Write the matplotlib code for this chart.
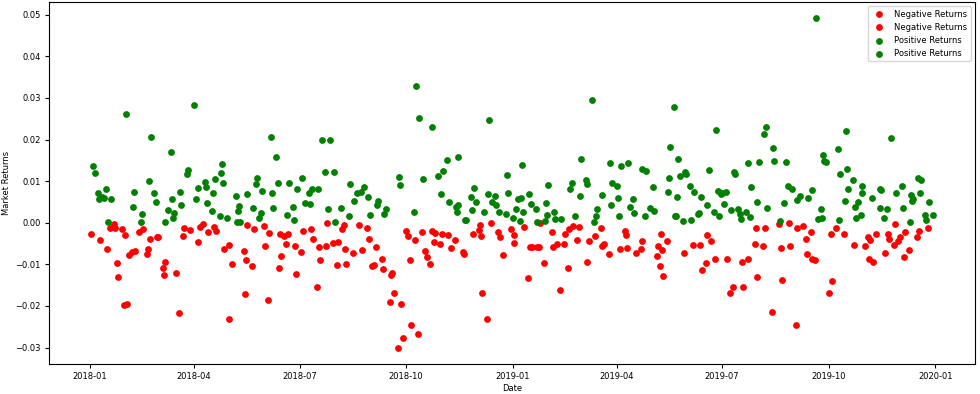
import numpy as np
import pandas as pd
import matplotlib
matplotlib.use('Agg')
import matplotlib.pyplot as plt
import matplotlib.dates as mdates

# daily market returns, days counted from 2018-01-01
start = pd.Timestamp('2018-01-01')

pos_days = [31, 90, 53, 70, 3, 4, 51, 114, 113, 115, 85, 84, 99, 100, 93, 108, 7, 14, 8, 10,
            12, 18, 38, 37, 55, 57, 71, 78, 79, 67, 73, 72, 65, 45, 44, 16, 92, 106, 101, 105, 112, 118,
            156, 161, 200, 207, 203, 211, 144, 143, 162, 172, 183, 179, 192, 197, 189, 225, 126, 136, 149, 157,
            129, 128, 141, 148, 146, 158, 170, 175, 176, 186, 190, 206, 217, 212, 224, 228, 231, 234, 237, 240,
            242, 127, 130,
            282, 284, 295, 345, 308, 318, 305, 301, 288, 267, 268, 303, 310, 316, 318, 317, 280, 249, 248, 256,
            254, 332, 329, 333, 344, 350, 347, 351, 360, 361, 370, 330, 340, 353, 359, 365, 368, 371, 324, 325,
            373, 434, 424, 449, 459, 465, 477, 480, 396, 416, 415, 428, 429, 451, 455, 486, 372, 379, 381, 385,
            394, 374, 442, 423, 456, 469, 466, 470, 450, 438, 437, 419, 401, 395, 402, 407, 393, 386, 435, 457,
            479, 484, 487,
            504, 541, 584, 582, 501, 590, 508, 591, 601, 568, 578, 535, 556, 557, 514, 515, 510, 500, 571, 603,
            606, 518, 522, 528, 499, 507, 542, 546, 549, 545, 533, 548, 576, 599, 611, 613, 620, 539, 543, 554,
            560, 561, 562, 567, 570, 585, 596, 505, 506, 512, 519, 525, 526,
            627, 653, 692, 646, 633, 634, 636, 648, 654, 659, 667, 667, 655, 624, 652, 663, 661, 675, 682, 683,
            696, 701, 715, 718, 709, 711, 710, 717, 725, 682, 688, 702, 631, 629, 632, 647, 662, 666, 686, 708,
            721, 722, 728]
pos_returns = [.0261, .0282, .0207, .0170, .0137, .0119, .0100, .0140, .0119, .0096, .0126, .0118, .0099, .0087, .0084, .0104, .0072, .0080, .0058, .0063,
               .0060, .0056, .0074, .0038, .0071, .0051, .0058, .0074, .0043, .0031, .0023, .0012, .0002, .0020, .0002, .0002, .0058, .0072, .0047, .0028, .0016, .0011,
               .0205, .0159, .0199, .0199, .0123, .0123, .0107, .0092, .0095, .0096, .0107, .0082, .0082, .0082, .0072, .0092, .0065, .0069, .0076, .0071,
               .0041, .0028, .0036, .0023, .0011, .0036, .0019, .0038, .0006, .0047, .0045, .0034, .0036, .0002, .0016, .0052, .0072, .0074, .0087, .0063,
               .0019, .0002, .0001,
               .0329, .0251, .0231, .0247, .0151, .0159, .0125, .0113, .0104, .0109, .0091, .0068, .0051, .0038, .0043, .0025, .0025, .0052, .0043, .0032,
               .0021, .0084, .0063, .0049, .0068, .0064, .0049, .0042, .0115, .0072, .0057, .0031, .0026, .0025, .0020, .0012, .0033, .0004, .0006, .0006,
               .0139, .0295, .0153, .0144, .0136, .0144, .0129, .0124, .0091, .0096, .0080, .0103, .0092, .0096, .0088, .0087, .0059, .0069, .0045, .0034,
               .0047, .0025, .0067, .0064, .0059, .0056, .0038, .0023, .0043, .0032, .0016, .0016, .0025, .0019, .0008, .0008, .0004, .0001, .0001, .0016,
               .0016, .0035, .0028,
               .0279, .0223, .0231, .0213, .0183, .0180, .0153, .0148, .0146, .0143, .0146, .0127, .0121, .0116, .0121, .0116, .0112, .0107, .0087, .0089,
               .0081, .0089, .0075, .0063, .0075, .0063, .0076, .0072, .0075, .0068, .0043, .0044, .0049, .0047, .0055, .0064, .0059, .0025, .0016, .0031,
               .0033, .0020, .0008, .0026, .0014, .0035, .0005, .0016, .0016, .0005, .0006, .0020, .0023,
               .0491, .0221, .0203, .0177, .0163, .0148, .0146, .0117, .0128, .0103, .0089, .0071, .0080, .0079, .0052, .0049, .0038, .0059, .0081, .0079,
               .0072, .0089, .0107, .0103, .0067, .0057, .0052, .0071, .0051, .0036, .0032, .0035, .0032, .0008, .0011, .0006, .0011, .0019, .0012, .0002,
               .0019, .0006, .0019]

neg_days = [1, 9, 15, 17, 21, 22, 28, 30, 23, 24, 29, 32, 34, 36, 39, 42, 46, 50, 49, 52,
            58, 59, 65, 63, 64, 74, 77, 81, 86, 80, 93, 95, 98, 102, 107, 109, 116, 120, 120,
            136, 142, 150, 155, 133, 135, 123, 140, 151, 134, 154, 164, 168, 171, 169, 165, 163, 177, 182, 178,
            184, 191, 193, 198, 199, 196, 204, 205, 210, 214, 213, 219, 218, 220, 221, 227, 232, 235, 239, 241, 244,
            247, 245, 252, 253, 260, 261, 263, 259, 269, 273, 275, 281, 276, 287, 295, 298, 304, 309, 297, 302,
            315, 312, 289, 291, 294, 322, 323, 277, 270, 266, 283, 331, 337, 336, 338, 346, 352, 354, 339, 343,
            357, 364, 366, 366,
            375, 389, 399, 392, 378, 380, 382, 386, 388, 400, 403, 409, 410, 414, 417, 422, 421, 413, 406, 431,
            436, 441, 429, 442, 444, 448, 458, 462, 463, 464, 472, 476, 477, 493, 491, 494, 490, 492, 495,
            498, 513, 521, 527, 533, 536, 532, 529, 540, 550, 553, 555, 564, 563, 568, 575, 583, 574, 581, 576,
            589, 595, 604, 597, 605, 598, 611, 616, 618, 619, 610,
            623, 624, 626, 640, 644, 651, 641, 638, 660, 669, 672, 674, 679, 673, 676, 689, 690, 695, 700, 698,
            694, 687, 704, 707, 703, 714, 716, 724]
neg_returns = [-.0026, -.0042, -.0064, -.0012, -.0003, -.0013, -.0016, -.0030, -.0096, -.0131, -.0198, -.0196, -.0078, -.0070, -.0067, -.0022, -.0014, -.0062, -.0075, -.0040,
               -.0035, -.0034, -.0094, -.0108, -.0126, -.0122, -.0218, -.0012, -.0018, -.0031, -.0046, -.0010, -.0004, -.0023, -.0010, -.0021, -.0064, -.0054, -.0232,
               -.0006, -.0016, -.0008, -.0024, -.0067, -.0090, -.0100, -.0103, -.0056, -.0172, -.0186, -.0028, -.0032, -.0028, -.0052, -.0080, -.0110, -.0056, -.0070, -.0124,
               -.0019, -.0016, -.0038, -.0058, -.0090, -.0155, -.0056, -.0001, -.0048, -.0046, -.0102, -.0006, -.0016, -.0062, -.0100, -.0072, -.0006, -.0066, -.0012, -.0040, -.0103,
               -.0058, -.0102, -.0086, -.0112, -.0126, -.0122, -.0168, -.0190, -.0196, -.0019, -.0032, -.0042, -.0090, -.0022, -.0019, -.0024, -.0026, -.0030, -.0046, -.0052,
               -.0042, -.0060, -.0067, -.0082, -.0100, -.0070, -.0076, -.0246, -.0278, -.0300, -.0268, -.0028, -.0006, -.0018, -.0032, -.0001, -.0023, -.0034, -.0170, -.0232,
               -.0078, -.0016, -.0030, -.0048,
               -.0010, -.0001, -.0022, -.0096, -.0134, -.0058, -.0058, -.0058, -.0058, -.0058, -.0050, -.0050, -.0028, -.0016, -.0008, -.0010, -.0042, -.0110, -.0162, -.0043,
               -.0031, -.0012, -.0094, -.0056, -.0052, -.0076, -.0063, -.0019, -.0030, -.0060, -.0072, -.0063, -.0043, -.0028, -.0056, -.0066, -.0080, -.0103, -.0128,
               -.0043, -.0072, -.0054, -.0054, -.0030, -.0044, -.0096, -.0114, -.0086, -.0086, -.0170, -.0155, -.0154, -.0094, -.0086, -.0012, -.0012, -.0052, -.0056, -.0130,
               -.0214, -.0004, -.0001, -.0060, -.0056, -.0138, -.0012, -.0008, -.0040, -.0076, -.0246,
               -.0022, -.0088, -.0090, -.0026, -.0012, -.0028, -.0140, -.0168, -.0054, -.0056, -.0034, -.0042, -.0028, -.0086, -.0094, -.0028, -.0038, -.0004, -.0034, -.0044,
               -.0054, -.0072, -.0022, -.0066, -.0082, -.0034, -.0019, -.0012]

pos_dates = start + pd.to_timedelta(pos_days, unit='D')
neg_dates = start + pd.to_timedelta(neg_days, unit='D')
pos_returns = np.array(pos_returns)
neg_returns = np.array(neg_returns)

plt.rcParams['font.size'] = 6

fig = plt.figure(figsize=(9.8, 3.94), dpi=100)
ax = fig.add_axes([49 / 980, 1 - 364 / 394, 926 / 980, 362 / 394])

# one scatter per year, same label -> legend shows each twice
for yr in [2018, 2019]:
    m = neg_dates.year == yr
    ax.scatter(neg_dates[m], neg_returns[m], color='red', s=15, label='Negative Returns')
for yr in [2018, 2019]:
    m = pos_dates.year == yr
    ax.scatter(pos_dates[m], pos_returns[m], color='green', s=15, label='Positive Returns')

ax.xaxis.set_major_locator(mdates.MonthLocator(bymonth=[1, 4, 7, 10]))
ax.xaxis.set_major_formatter(mdates.DateFormatter('%Y-%m'))
ax.tick_params(length=3, pad=3, labelsize=6)
ax.set_xlabel('Date', fontsize=6, labelpad=2)
ax.set_ylabel('Market Returns', fontsize=6, labelpad=3)
ax.legend(loc='upper right', fontsize=6)

fig.savefig('out.png', dpi=100)
